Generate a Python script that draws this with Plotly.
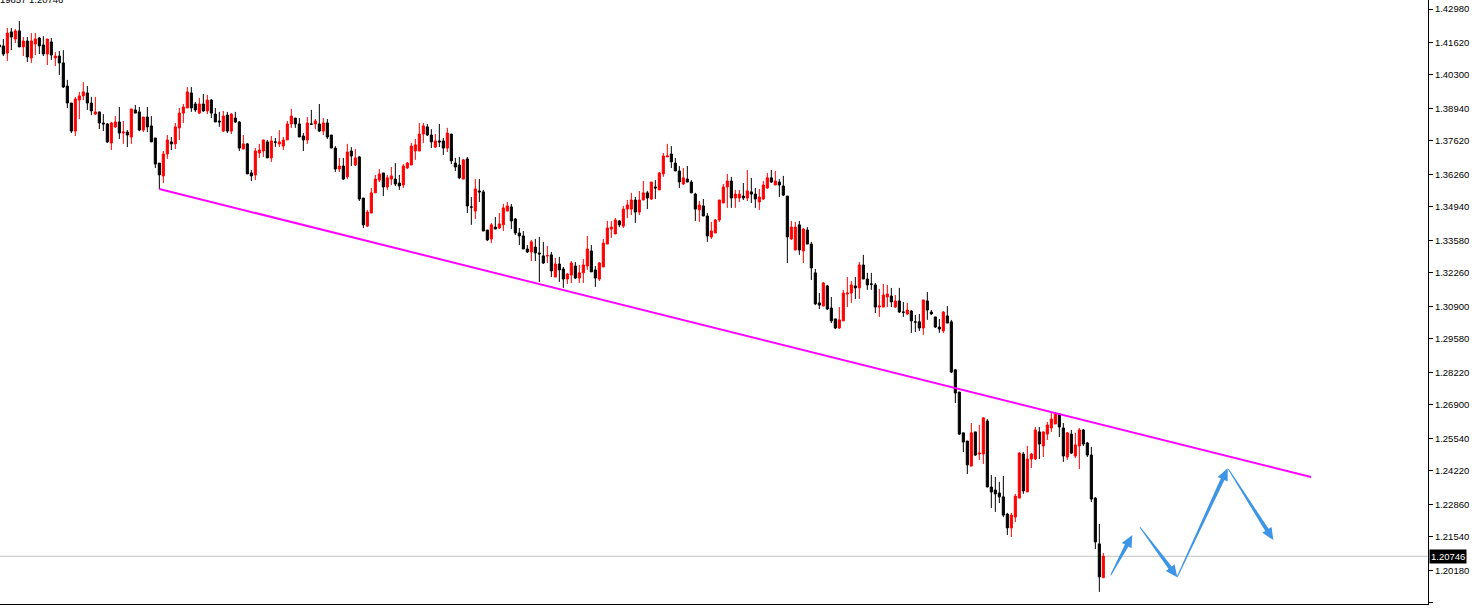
import plotly.graph_objects as go

# ---------------- data ----------------
bars = list(range(1, 278))

opens = [1.4152,1.4148,1.4119,1.4205,1.4176,1.4209,1.4144,1.4168,1.4099,1.4156,
1.4180,1.4152,1.4115,1.4164,1.4099,1.4107,1.4079,1.3985,1.3916,1.3802,
1.3928,1.3945,1.3957,1.3916,1.3871,1.3880,1.3835,1.3831,1.3754,1.3819,
1.3839,1.3794,1.3798,1.3778,1.3888,1.3880,1.3806,1.3859,1.3823,1.3774,
1.3672,1.3620,1.3709,1.3758,1.3750,1.3815,1.3875,1.3896,1.3957,1.3912,
1.3875,1.3912,1.3884,1.3928,1.3871,1.3843,1.3802,1.3867,1.3802,1.3855,
1.3839,1.3729,1.3750,1.3632,1.3624,1.3713,1.3721,1.3758,1.3693,1.3758,
1.3750,1.3741,1.3766,1.3831,1.3855,1.3831,1.3782,1.3766,1.3831,1.3831,
1.3831,1.3802,1.3835,1.3786,1.3733,1.3648,1.3660,1.3616,1.3721,1.3664,
1.3697,1.3530,1.3416,1.3469,1.3551,1.3603,1.3632,1.3575,1.3607,1.3607,
1.3591,1.3583,1.3652,1.3664,1.3721,1.3721,1.3790,1.3819,1.3786,1.3737,
1.3762,1.3762,1.3733,1.3790,1.3672,1.3664,1.3607,1.3689,1.3494,1.3477,
1.3559,1.3555,1.3400,1.3364,1.3412,1.3408,1.3421,1.3477,1.3494,1.3445,
1.3388,1.3376,1.3323,1.3311,1.3331,1.3307,1.3295,1.3295,1.3299,1.3209,
1.3262,1.3242,1.3201,1.3217,1.3254,1.3205,1.3226,1.3254,1.3315,1.3238,
1.3201,1.3250,1.3343,1.3404,1.3384,1.3437,1.3416,1.3485,1.3485,1.3522,
1.3473,1.3522,1.3551,1.3526,1.3575,1.3563,1.3628,1.3697,1.3709,1.3672,
1.3640,1.3587,1.3607,1.3595,1.3546,1.3482,1.3498,1.3457,1.3372,1.3388,
1.3441,1.3510,1.3575,1.3599,1.3530,1.3530,1.3538,1.3530,1.3555,1.3546,
1.3514,1.3526,1.3571,1.3612,1.3583,1.3595,1.3579,1.3538,1.3364,1.3319,
1.3421,1.3315,1.3400,1.3343,1.3226,1.3104,1.3091,1.3173,1.3083,1.3039,
1.3002,1.3031,1.3140,1.3144,1.3173,1.3165,1.3258,1.3201,1.3181,1.3177,
1.3087,1.3087,1.3128,1.3132,1.3087,1.3112,1.3067,1.3059,1.3071,1.3027,
1.3027,1.3002,1.3112,1.3067,1.3047,1.3006,1.2990,1.3051,1.3027,1.2832,
1.2742,1.2576,1.2543,1.2441,1.2580,1.2490,1.2490,1.2624,1.2356,1.2344,
1.2332,1.2316,1.2246,1.2190,1.2234,1.2311,1.2490,1.2336,1.2470,1.2470,
1.2580,1.2523,1.2571,1.2596,1.2612,1.2653,1.2596,1.2478,1.2571,1.2482,
1.2523,1.2588,1.2535,1.2486,1.2311,1.2125,1.1988]

highs = [1.4156,1.4176,1.4221,1.4221,1.4217,1.4249,1.4184,1.4184,1.4200,1.4200,
1.4184,1.4188,1.4176,1.4180,1.4123,1.4127,1.4131,1.4010,1.3916,1.3941,
1.3961,1.4001,1.3985,1.3941,1.3941,1.3880,1.3871,1.3835,1.3839,1.3863,
1.3900,1.3843,1.3806,1.3892,1.3908,1.3900,1.3859,1.3900,1.3863,1.3774,
1.3672,1.3721,1.3786,1.3778,1.3835,1.3896,1.3912,1.3981,1.3981,1.3920,
1.3937,1.3953,1.3949,1.3932,1.3896,1.3880,1.3884,1.3880,1.3875,1.3880,
1.3843,1.3786,1.3754,1.3644,1.3733,1.3750,1.3766,1.3766,1.3782,1.3774,
1.3806,1.3778,1.3843,1.3892,1.3855,1.3855,1.3794,1.3859,1.3888,1.3851,
1.3912,1.3855,1.3851,1.3786,1.3741,1.3693,1.3693,1.3750,1.3737,1.3729,
1.3701,1.3530,1.3482,1.3571,1.3624,1.3648,1.3632,1.3624,1.3656,1.3672,
1.3624,1.3668,1.3677,1.3754,1.3770,1.3835,1.3835,1.3831,1.3810,1.3790,
1.3831,1.3774,1.3815,1.3790,1.3693,1.3697,1.3689,1.3697,1.3534,1.3607,
1.3607,1.3563,1.3400,1.3429,1.3453,1.3469,1.3506,1.3514,1.3506,1.3449,
1.3408,1.3396,1.3339,1.3360,1.3364,1.3372,1.3352,1.3335,1.3311,1.3287,
1.3291,1.3250,1.3226,1.3274,1.3270,1.3258,1.3282,1.3376,1.3339,1.3254,
1.3270,1.3364,1.3437,1.3437,1.3449,1.3441,1.3498,1.3522,1.3551,1.3534,
1.3559,1.3599,1.3559,1.3595,1.3603,1.3636,1.3713,1.3750,1.3741,1.3693,
1.3660,1.3652,1.3660,1.3603,1.3551,1.3518,1.3526,1.3469,1.3433,1.3445,
1.3522,1.3587,1.3628,1.3616,1.3563,1.3563,1.3591,1.3644,1.3612,1.3571,
1.3567,1.3599,1.3632,1.3644,1.3640,1.3607,1.3620,1.3538,1.3437,1.3433,
1.3437,1.3408,1.3412,1.3352,1.3242,1.3144,1.3189,1.3177,1.3128,1.3039,
1.3087,1.3157,1.3209,1.3193,1.3209,1.3270,1.3299,1.3226,1.3226,1.3185,
1.3161,1.3181,1.3177,1.3165,1.3136,1.3165,1.3108,1.3104,1.3075,1.3055,
1.3059,1.3116,1.3148,1.3075,1.3047,1.3039,1.3071,1.3091,1.3035,1.2835,
1.2742,1.2576,1.2543,1.2616,1.2580,1.2608,1.2637,1.2632,1.2405,1.2397,
1.2377,1.2401,1.2251,1.2251,1.2328,1.2498,1.2498,1.2523,1.2494,1.2600,
1.2600,1.2580,1.2620,1.2661,1.2661,1.2657,1.2616,1.2580,1.2588,1.2576,
1.2596,1.2592,1.2539,1.2519,1.2315,1.2206,1.2088]

lows = [1.4140,1.4107,1.4087,1.4131,1.4160,1.4144,1.4107,1.4083,1.4079,1.4111,
1.4115,1.4107,1.4070,1.4091,1.4066,1.4030,1.3977,1.3896,1.3794,1.3782,
1.3851,1.3928,1.3888,1.3867,1.3867,1.3810,1.3802,1.3754,1.3725,1.3815,
1.3770,1.3750,1.3737,1.3750,1.3875,1.3802,1.3798,1.3798,1.3758,1.3652,
1.3567,1.3591,1.3689,1.3725,1.3729,1.3766,1.3835,1.3896,1.3880,1.3880,
1.3871,1.3880,1.3871,1.3855,1.3839,1.3819,1.3798,1.3794,1.3790,1.3835,
1.3721,1.3729,1.3628,1.3599,1.3603,1.3693,1.3697,1.3693,1.3677,1.3737,
1.3737,1.3725,1.3766,1.3815,1.3815,1.3778,1.3721,1.3750,1.3827,1.3810,
1.3798,1.3786,1.3770,1.3733,1.3636,1.3636,1.3603,1.3607,1.3660,1.3660,
1.3518,1.3408,1.3412,1.3469,1.3551,1.3595,1.3538,1.3563,1.3583,1.3579,
1.3563,1.3571,1.3648,1.3664,1.3685,1.3721,1.3754,1.3782,1.3733,1.3733,
1.3737,1.3705,1.3717,1.3668,1.3640,1.3607,1.3607,1.3469,1.3421,1.3445,
1.3514,1.3396,1.3355,1.3347,1.3404,1.3404,1.3396,1.3477,1.3404,1.3380,
1.3339,1.3323,1.3307,1.3274,1.3274,1.3189,1.3262,1.3266,1.3209,1.3209,
1.3189,1.3165,1.3181,1.3185,1.3201,1.3185,1.3185,1.3238,1.3230,1.3169,
1.3193,1.3250,1.3343,1.3368,1.3384,1.3412,1.3408,1.3449,1.3461,1.3429,
1.3461,1.3522,1.3485,1.3522,1.3526,1.3563,1.3616,1.3697,1.3652,1.3640,
1.3571,1.3583,1.3595,1.3551,1.3437,1.3433,1.3457,1.3352,1.3364,1.3388,
1.3433,1.3510,1.3490,1.3490,1.3490,1.3514,1.3522,1.3518,1.3510,1.3490,
1.3482,1.3522,1.3567,1.3591,1.3583,1.3534,1.3538,1.3266,1.3360,1.3319,
1.3299,1.3266,1.3343,1.3197,1.3095,1.3079,1.3091,1.3075,1.3022,1.2998,
1.2998,1.3031,1.3087,1.3104,1.3120,1.3120,1.3201,1.3157,1.3157,1.3063,
1.3047,1.3087,1.3087,1.3087,1.3083,1.3063,1.3047,1.3055,1.2982,1.2986,
1.2990,1.2974,1.3035,1.3055,1.3002,1.2982,1.2982,1.3022,1.2819,1.2697,
1.2567,1.2498,1.2409,1.2441,1.2482,1.2466,1.2450,1.2356,1.2271,1.2255,
1.2291,1.2234,1.2161,1.2153,1.2214,1.2311,1.2328,1.2336,1.2433,1.2466,
1.2470,1.2478,1.2547,1.2580,1.2612,1.2559,1.2458,1.2466,1.2490,1.2474,
1.2429,1.2523,1.2478,1.2295,1.2104,1.1930,1.19857]

closes = [1.4144,1.4115,1.4200,1.4184,1.4209,1.4144,1.4168,1.4103,1.4168,1.4176,
1.4148,1.4115,1.4176,1.4111,1.4107,1.4079,1.3981,1.3916,1.3802,1.3932,
1.3945,1.3961,1.3916,1.3884,1.3880,1.3835,1.3831,1.3758,1.3835,1.3839,
1.3794,1.3798,1.3786,1.3892,1.3875,1.3806,1.3859,1.3819,1.3758,1.3668,
1.3624,1.3709,1.3766,1.3750,1.3819,1.3875,1.3900,1.3961,1.3896,1.3888,
1.3912,1.3884,1.3928,1.3875,1.3839,1.3839,1.3863,1.3802,1.3871,1.3839,
1.3733,1.3750,1.3628,1.3620,1.3721,1.3725,1.3766,1.3693,1.3762,1.3757,
1.3758,1.3766,1.3831,1.3863,1.3831,1.3778,1.3766,1.3835,1.3830,1.3843,
1.3802,1.3835,1.3778,1.3733,1.3648,1.3660,1.3607,1.3717,1.3701,1.3693,
1.3526,1.3421,1.3473,1.3551,1.3607,1.3628,1.3575,1.3612,1.3620,1.3587,
1.3579,1.3660,1.3672,1.3741,1.3746,1.3790,1.3823,1.3786,1.3758,1.3762,
1.3758,1.3733,1.3794,1.3681,1.3656,1.3612,1.3685,1.3498,1.3493,1.3567,
1.3555,1.3396,1.3360,1.3421,1.3404,1.3425,1.3490,1.3498,1.3437,1.3388,
1.3376,1.3323,1.3311,1.3352,1.3307,1.3303,1.3266,1.3296,1.3234,1.3262,
1.3238,1.3201,1.3221,1.3266,1.3205,1.3226,1.3258,1.3323,1.3230,1.3205,
1.3266,1.3347,1.3408,1.3412,1.3441,1.3421,1.3485,1.3502,1.3522,1.3473,
1.3522,1.3551,1.3530,1.3595,1.3571,1.3632,1.3701,1.3701,1.3677,1.3640,
1.3595,1.3612,1.3595,1.3551,1.3485,1.3502,1.3457,1.3376,1.3396,1.3441,
1.3522,1.3575,1.3599,1.3530,1.3546,1.3546,1.3530,1.3559,1.3546,1.3526,
1.3534,1.3583,1.3612,1.3595,1.3599,1.3583,1.3542,1.3372,1.3412,1.3412,
1.3319,1.3404,1.3343,1.3246,1.3100,1.3095,1.3185,1.3079,1.3031,1.3002,
1.3035,1.3144,1.3144,1.3177,1.3165,1.3258,1.3201,1.3177,1.3180,1.3087,
1.3091,1.3136,1.3140,1.3108,1.3112,1.3067,1.3066,1.3075,1.3031,1.3026,
1.3002,1.3116,1.3075,1.3059,1.3006,1.2998,1.3067,1.3022,1.2823,1.2738,
1.2571,1.2539,1.2446,1.2576,1.2486,1.2494,1.2637,1.2356,1.2336,1.2328,
1.2316,1.2242,1.2190,1.2242,1.2319,1.2494,1.2340,1.2470,1.2490,1.2588,
1.2531,1.2580,1.2608,1.2632,1.2657,1.2600,1.2482,1.2576,1.2494,1.2527,
1.2588,1.2531,1.2486,1.2307,1.2133,1.1991,1.20746]

tick_vals = [1.42980, 1.41620, 1.40300, 1.38940, 1.37620, 1.36260, 1.34940,
             1.33580, 1.32260, 1.30900, 1.29580, 1.28220, 1.26900, 1.25540,
             1.24220, 1.22860, 1.21540, 1.20180, 1.18860]
tick_text = ["1.42980", "1.41620", "1.40300", "1.38940", "1.37620", "1.36260",
             "1.34940", "1.33580", "1.32260", "1.30900", "1.29580", "1.28220",
             "1.26900", "1.25540", "1.24220", "1.22860", "1.21540", "1.20180",
             "1.18860"]

last_price = 1.20746
last_price_text = "1.20746"
header_text = "1.19857 1.20746"

# trend line (bar index, price)
trend_x = [41, 328.92]
trend_y = [1.35668, 1.23967]

# hand-drawn forecast arrows: (start bar, start price, end bar, end price)
arrow_x0 = [278.84, 286.17, 295.50, 308.25]
arrow_y0 = [1.19974, 1.21924, 1.19917, 1.24292]
arrow_x1 = [284.25, 295.50, 308.09, 319.50]
arrow_y1 = [1.21611, 1.19892, 1.24320, 1.21408]

# ---------------- layout constants ----------------
W, H = 1476, 608
ML, MR, MT, MB = 0, 48, 0, 4
PW, PH = W - ML - MR, H - MT - MB
x_range = [1.1675, 1.1675 + PW / 4.0]
y_range = [1.188075, 1.433456]

RED = "#FF0000"
BLK = "#000000"
MAGENTA = "#FF00FF"
BLUE = "#3D95E5"
FONT = "Liberation Sans"


def to_px(x, y):
    px = (x - x_range[0]) / (x_range[1] - x_range[0]) * PW
    py = (y_range[1] - y) / (y_range[1] - y_range[0]) * PH
    return px, py


def to_data(px, py):
    x = x_range[0] + px / PW * (x_range[1] - x_range[0])
    y = y_range[1] - py / PH * (y_range[1] - y_range[0])
    return x, y


def arrow_path(x0, y0, x1, y1, w0=1.0, w1=4.0, head_len=12.0, head_half=5.5):
    ax, ay = to_px(x0, y0)
    bx, by = to_px(x1, y1)
    dx, dy = bx - ax, by - ay
    L = (dx * dx + dy * dy) ** 0.5
    ux, uy = dx / L, dy / L
    nx, ny = -uy, ux
    neck_x, neck_y = bx - ux * head_len, by - uy * head_len
    pts = [
        (ax + nx * w0 / 2, ay + ny * w0 / 2),
        (neck_x + nx * w1 / 2, neck_y + ny * w1 / 2),
        (neck_x + nx * head_half, neck_y + ny * head_half),
        (bx, by),
        (neck_x - nx * head_half, neck_y - ny * head_half),
        (neck_x - nx * w1 / 2, neck_y - ny * w1 / 2),
        (ax - nx * w0 / 2, ay - ny * w0 / 2),
    ]
    d = []
    for i, (px, py) in enumerate(pts):
        x, y = to_data(px, py)
        d.append(("M" if i == 0 else "L") + f"{x:.5f},{y:.6f}")
    return " ".join(d) + " Z"


fig = go.Figure()

fig.add_trace(go.Candlestick(
    x=bars, open=opens, high=highs, low=lows, close=closes,
    increasing=dict(line=dict(color=RED, width=1), fillcolor=RED),
    decreasing=dict(line=dict(color=BLK, width=1), fillcolor=BLK),
    whiskerwidth=0, showlegend=False, hoverinfo="skip",
))

fig.add_trace(go.Scatter(
    x=trend_x, y=trend_y, mode="lines",
    line=dict(color=MAGENTA, width=2), showlegend=False, hoverinfo="skip",
))

shapes = [dict(type="line", xref="paper", yref="y", x0=0, x1=1,
               y0=last_price, y1=last_price, layer="below",
               line=dict(color="#C0C0C0", width=1))]
for i in range(len(arrow_x0)):
    shapes.append(dict(type="path", xref="x", yref="y",
                       path=arrow_path(arrow_x0[i], arrow_y0[i], arrow_x1[i], arrow_y1[i]),
                       fillcolor=BLUE, line=dict(width=0), layer="above"))

annotations = [
    dict(xref="paper", yref="y", x=1, y=last_price, xanchor="left", yanchor="middle",
         xshift=1, text=last_price_text, showarrow=False,
         font=dict(family=FONT, size=9.5, color="#FFFFFF"),
         bgcolor="#000000", borderpad=1),
    dict(xref="paper", yref="paper", x=65 / PW, y=1, xanchor="right", yanchor="middle",
         yshift=1, text=header_text, showarrow=False,
         font=dict(family=FONT, size=9.5, color="#000000")),
]

fig.update_layout(
    width=W, height=H,
    margin=dict(l=ML, r=MR, t=MT, b=MB, pad=0),
    paper_bgcolor="#FFFFFF", plot_bgcolor="#FFFFFF",
    showlegend=False,
    shapes=shapes, annotations=annotations,
    boxgap=0.25,
    xaxis=dict(range=x_range, rangeslider=dict(visible=False), showgrid=False,
               zeroline=False, showticklabels=False, ticks="",
               showline=True, linecolor="#000000", linewidth=1, fixedrange=True),
    yaxis=dict(range=y_range, side="right", showgrid=False, zeroline=False,
               tickmode="array", tickvals=tick_vals, ticktext=tick_text,
               ticks="outside", ticklen=4, tickcolor="#000000", tickwidth=1,
               showline=True, linecolor="#000000", linewidth=1,
               tickfont=dict(family=FONT, size=9.5, color="#000000"),
               fixedrange=True),
)

fig.write_html(
    "out.html",
    config={"displayModeBar": False},
    post_script="document.body.style.margin='0px';document.body.style.overflow='hidden';",
)
